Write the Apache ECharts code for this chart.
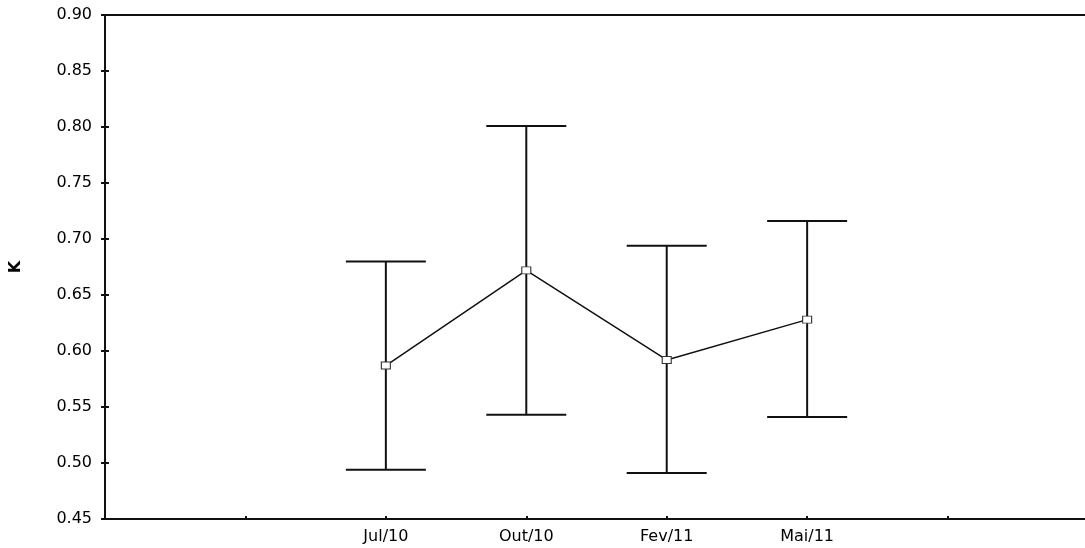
<!DOCTYPE html>
<html>
<head>
<meta charset="utf-8">
<style>
  html, body { margin: 0; padding: 0; background: #fff; }
  #chart { width: 1085px; height: 548px; }
</style>
<script src="https://cdn.jsdelivr.net/npm/echarts@6/dist/echarts.min.js"></script>
</head>
<body>
<div id="chart"></div>
<script>
// Sampling campaigns and the K estimates (mean with lower/upper interval bounds)
const categories = ['Jul/10', 'Out/10', 'Fev/11', 'Mai/11'];
const means = [0.587, 0.672, 0.592, 0.628];
const lower = [0.494, 0.543, 0.491, 0.541];
const upper = [0.680, 0.801, 0.694, 0.716];
const yTicks = ['0.45', '0.50', '0.55', '0.60', '0.65', '0.70', '0.75', '0.80', '0.85', '0.90'];

// The x axis has two empty slots on each side of the campaigns
const LEAD = 2;
const SLOT_COUNT = categories.length + 2 * LEAD - 1;

const lineData = categories.map((c, i) => [i + LEAD, means[i]]);
const barData = categories.map((c, i) => [i + LEAD, lower[i], upper[i]]);

const FONT = 'DejaVu Sans, Verdana, Arial, sans-serif';
const INK = '#111';

const chart = echarts.init(document.getElementById('chart'), null, { renderer: 'canvas' });

chart.setOption({
  animation: false,
  backgroundColor: '#fff',
  grid: { left: 105, right: -3, top: 15, bottom: 29, containLabel: false, outerBoundsMode: 'none' },
  xAxis: [
    {
      type: 'value',
      min: 0,
      max: SLOT_COUNT,
      interval: 1,
      position: 'bottom',
      splitLine: { show: false },
      axisLine: { show: true, lineStyle: { color: INK, width: 2 } },
      axisTick: { show: true, inside: true, length: 3, lineStyle: { color: INK, width: 2 } },
      axisLabel: {
        color: '#000',
        fontFamily: FONT,
        fontSize: 16,
        margin: 10,
        formatter: v => {
          const i = Math.round(v) - LEAD;
          return (i >= 0 && i < categories.length) ? categories[i] : '';
        }
      }
    },
    {
      type: 'value',
      min: 0,
      max: SLOT_COUNT,
      position: 'top',
      splitLine: { show: false },
      axisLine: { show: true, lineStyle: { color: INK, width: 2 } },
      axisTick: { show: false },
      axisLabel: { show: false }
    }
  ],
  yAxis: [
    {
      type: 'value',
      min: 0.45,
      max: 0.90,
      interval: 0.05,
      position: 'left',
      name: 'K',
      nameLocation: 'middle',
      nameGap: 81,
      nameTextStyle: { color: '#000', fontFamily: FONT, fontSize: 16, fontWeight: 'bold' },
      splitLine: { show: false },
      axisLine: { show: true, lineStyle: { color: INK, width: 2 } },
      axisTick: { show: true, inside: true, length: 4, lineStyle: { color: INK, width: 2 } },
      axisLabel: {
        color: '#000',
        fontFamily: FONT,
        fontSize: 16,
        margin: 13,
        formatter: v => yTicks[Math.round((v - 0.45) / 0.05)] || v.toFixed(2)
      }
    },
    {
      type: 'value',
      min: 0.45,
      max: 0.90,
      interval: 0.05,
      position: 'right',
      splitLine: { show: false },
      axisLine: { show: false },
      axisTick: { show: true, inside: true, length: 4, lineStyle: { color: INK, width: 2 } },
      axisLabel: { show: false }
    }
  ],
  series: [
    {
      type: 'custom',
      name: 'interval',
      xAxisIndex: 0,
      yAxisIndex: 0,
      data: barData,
      z: 2,
      renderItem: (params, api) => {
        const x = api.value(0);
        const lo = api.coord([x, api.value(1)]);
        const hi = api.coord([x, api.value(2)]);
        const half = 40;
        const style = { stroke: INK, lineWidth: 2 };
        return {
          type: 'group',
          children: [
            { type: 'line', shape: { x1: lo[0], y1: lo[1], x2: hi[0], y2: hi[1] }, style },
            { type: 'line', shape: { x1: hi[0] - half, y1: hi[1], x2: hi[0] + half, y2: hi[1] }, style },
            { type: 'line', shape: { x1: lo[0] - half, y1: lo[1], x2: lo[0] + half, y2: lo[1] }, style }
          ]
        };
      }
    },
    {
      type: 'line',
      name: 'mean',
      xAxisIndex: 0,
      yAxisIndex: 0,
      data: lineData,
      z: 3,
      symbol: 'rect',
      symbolSize: [9, 7],
      showSymbol: true,
      lineStyle: { color: INK, width: 1.5 },
      itemStyle: { color: '#fff', borderColor: '#333', borderWidth: 1 }
    }
  ]
});
</script>
</body>
</html>
